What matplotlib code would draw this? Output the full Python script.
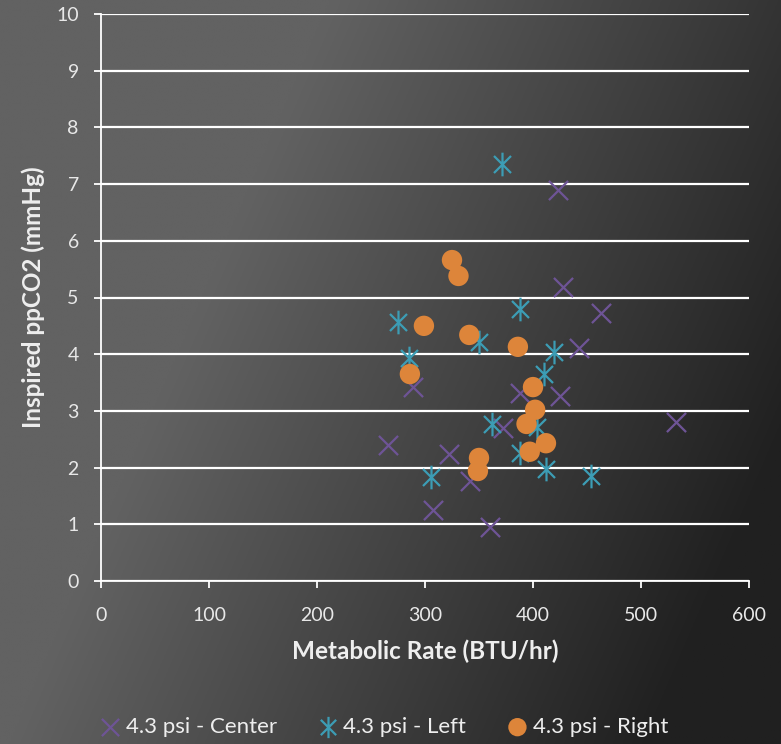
import numpy as np
import matplotlib
matplotlib.use("Agg")
import matplotlib.pyplot as plt
from matplotlib.path import Path

plt.rcParams['font.family'] = ['Lato', 'DejaVu Sans']

# Metabolic rate (BTU/hr) vs inspired ppCO2 (mmHg) per sensor location
center_x = [266, 322, 307, 289, 342, 360, 372, 388, 425, 443, 463, 428, 423, 532]
center_y = [2.40, 2.24, 1.25, 3.42, 1.76, 0.95, 2.70, 3.32, 3.26, 4.11, 4.73, 5.19, 6.90, 2.80]

left_x = [371, 388, 275, 285, 350, 419, 410, 362, 404, 388, 412, 454, 306]
left_y = [7.35, 4.80, 4.57, 3.93, 4.22, 4.04, 3.65, 2.77, 2.72, 2.26, 1.98, 1.85, 1.84]

right_x = [325, 331, 299, 341, 386, 286, 400, 402, 394, 412, 397, 350, 349]
right_y = [5.66, 5.38, 4.50, 4.34, 4.13, 3.65, 3.42, 3.02, 2.77, 2.43, 2.28, 2.17, 1.94]

series_labels = ["4.3 psi - Center", "4.3 psi - Left", "4.3 psi - Right"]
x_ticks = [0, 100, 200, 300, 400, 500, 600]
y_ticks = list(range(0, 11))

W, H = 781, 744
fig = plt.figure(figsize=(W / 100, H / 100), dpi=100)

# dark gradient backdrop
bg = fig.add_axes([0, 0, 1, 1], zorder=-10)
xx, yy = np.meshgrid(np.linspace(0, 1, 400), np.linspace(0, 1, 400))
t = np.clip(((xx - 0.3) * 0.85 + (yy - 0.3) * 0.35) / 0.7, 0, 1)
light, dark = 0x62 / 255, 0x20 / 255
g = light - t * (light - dark)
bg.imshow(np.dstack([g, g, g]), extent=[0, 1, 0, 1], origin='upper', aspect='auto')
bg.axis('off')

ax = fig.add_axes([101 / W, 1 - 581 / H, 648 / W, 567 / H])
ax.set_facecolor('none')

# asterisk: vertical stroke plus diagonal cross
ast_verts = [(0, -1), (0, 1), (-0.72, -0.72), (0.72, 0.72), (-0.72, 0.72), (0.72, -0.72)]
ast_codes = [Path.MOVETO, Path.LINETO] * 3
asterisk = Path(ast_verts, ast_codes)

purple = '#6e5496'
teal = '#3c9db5'
orange = '#dd853a'

ax.scatter(center_x, center_y, marker='x', s=190, color=purple, linewidths=1.6,
           label=series_labels[0], zorder=3)
ax.scatter(left_x, left_y, marker=asterisk, s=290, color=teal, linewidths=1.6,
           label=series_labels[1], zorder=3)
ax.scatter(right_x, right_y, marker='o', s=215, color=orange, edgecolors='none',
           label=series_labels[2], zorder=4)

ax.set_xlim(0, 600)
ax.set_ylim(0, 10)
ax.set_xticks(x_ticks)
ax.set_yticks(y_ticks)
ax.yaxis.grid(True, color='white', linewidth=1.6)
ax.set_axisbelow(True)
for s in ['top', 'right']:
    ax.spines[s].set_visible(False)
for s in ['left', 'bottom']:
    ax.spines[s].set_color('white')
    ax.spines[s].set_linewidth(1.3)
ax.tick_params(colors='white', labelcolor='#e8e8e8', labelsize=14, length=5,
               width=1.3, direction='out')
ax.tick_params(axis='x', pad=14)
ax.tick_params(axis='y', pad=11)

ax.set_xlabel("Metabolic Rate (BTU/hr)", color='#eeeeee', fontsize=17.5,
              fontweight='bold', labelpad=11)
ax.set_ylabel("Inspired ppCO2 (mmHg)", color='#eeeeee', fontsize=17.5,
              fontweight='bold', labelpad=8)

leg = fig.legend(loc='center', bbox_to_anchor=(0.487, 1 - 727 / H), ncol=3,
                 frameon=False, fontsize=16, handletextpad=-0.1, handlelength=1.6,
                 columnspacing=1.5, markerscale=0.9)
for txt in leg.get_texts():
    txt.set_color('#eeeeee')

fig.savefig('out.png', dpi=100)
